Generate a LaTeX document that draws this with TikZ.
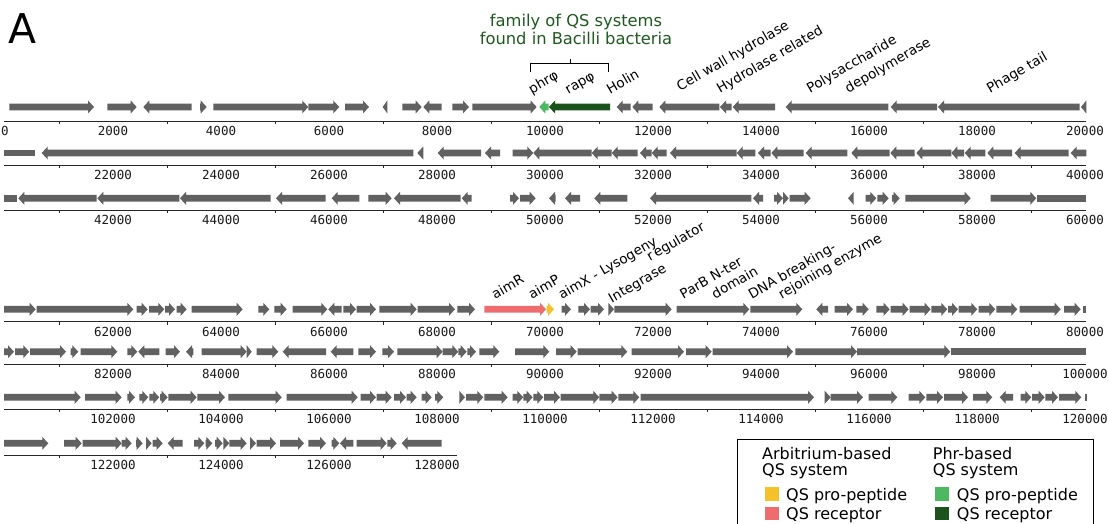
\documentclass[tikz,border=0pt]{standalone}
\usepackage{fontspec}
\setmainfont{DejaVu Sans}
\newfontfamily\monof{DejaVu Sans Mono}
\definecolor{gcol}{HTML}{616161}
\definecolor{phrcol}{HTML}{4CB862}
\definecolor{rapcol}{HTML}{1C521C}
\definecolor{aimRcol}{HTML}{EE6B6E}
\definecolor{aimPcol}{HTML}{F6C02A}
\definecolor{titlegreen}{HTML}{1E5A1E}
\newcommand\gR[4][gcol]{\pgfmathsetmacro\hlen{min(6,#3-#2)}%
  \fill[#1] (#2,#4-3.4) -- (#3-\hlen,#4-3.4) -- (#3-\hlen,#4-6.5) -- (#3,#4) -- (#3-\hlen,#4+6.5) -- (#3-\hlen,#4+3.4) -- (#2,#4+3.4) -- cycle;}
\newcommand\gL[4][gcol]{\pgfmathsetmacro\hlen{min(6,#3-#2)}%
  \fill[#1] (#3,#4-3.4) -- (#2+\hlen,#4-3.4) -- (#2+\hlen,#4-6.5) -- (#2,#4) -- (#2+\hlen,#4+6.5) -- (#2+\hlen,#4+3.4) -- (#3,#4+3.4) -- cycle;}
\newcommand\gN[4][gcol]{\fill[#1] (#2,#4-3.4) rectangle (#3,#4+3.4);}
\newcommand\generow[2]{\foreach \d/\a/\b in {#2} {\csname g\d\endcsname{\a}{\b}{#1}}}
\newcommand\axisrow[4]{% #1 row index, #2 axis y, #3 end x, #4 number of labels
  \draw[axisline] (4,#2) -- (#3,#2);
  \foreach \k in {1,3,...,19} {\pgfmathsetmacro\tx{5+54*\k}\ifdim\tx pt<#3pt\relax\draw[axisline] (\tx,#2) -- (\tx,#2+3);\fi}
  \foreach \j in {1,...,#4} {\pgfmathtruncatemacro\lab{20*#1+2*\j}\node[ticklab] (tl#1-\j) at (5+108*\j,#2+10) {\lab000};}}
\begin{document}
\begin{tikzpicture}[x=1pt,y=-1pt,
  axisline/.style={draw=black!85,line width=0.9pt},
  ticklab/.style={font=\monof\fontsize{12.5}{12.5}\selectfont,inner sep=0pt,text=black!90},
  lab/.style={font=\fontsize{13.5}{13.5}\selectfont,rotate=30,anchor=base west,inner sep=0pt},
  legtext/.style={font=\fontsize{16}{16}\selectfont,anchor=base west,inner sep=0pt}]
\useasboundingbox (0,0) rectangle (1108,524);
% panel letter
\node[font=\fontsize{41}{41}\selectfont,anchor=base west,inner sep=0pt] (A) at (8,43.3) {A};
% title and bracket
\node[font=\fontsize{16.3}{16.3}\selectfont,text=titlegreen,anchor=base,inner sep=0pt] (t1) at (576,26.7) {family of QS systems};
\node[font=\fontsize{16.3}{16.3}\selectfont,text=titlegreen,anchor=base,inner sep=0pt] (t2) at (576,45) {found in Bacilli bacteria};
\draw[line width=1pt] (530.7,71.7) -- (530.7,63.3) -- (608.3,63.3) -- (608.3,71.7);
\draw[line width=1pt] (570,63.3) -- (570,59.3);
% ---------- row 1 ----------
\generow{107}{R/9.3/94, R/107.3/136.7, L/143.3/191.7, R/200/206.7, R/213.3/308.3, R/308.3/339.3, R/345/369, L/382.7/387.3, R/402.3/421.7, L/423.3/441.7, R/452.3/469, R/472.3/536.7, L/616.7/630.7, L/632.3/652.7, L/659.3/719.3, L/720/731.7, L/732.7/775, L/785.7/888.3, L/890.7/937, L/938/1079.7, L/1081/1086.3}
\gL[phrcol]{539.3}{548.6}{107}
\gL[rapcol]{549}{610}{107}
\axisrow{0}{121}{1086}{10}
\node[ticklab] (tl0-0) at (5,131) {0};
% ---------- row 2 ----------
\generow{153}{N/4/35.3, L/41.7/413.3, L/417.3/423.3, L/437.7/481, L/485/500, R/512.7/533.3, L/533.3/591.7, L/591.7/611.7, L/611.7/637.7, L/640/651.7, L/651.7/666.7, L/670/736.7, L/736.7/755.3, L/758/770.7, L/771.3/803.7, L/805.7/847.3, L/851.3/889.7, L/890.3/914.7, L/916.3/951.3, L/951.3/964, L/964.7/985.3, L/987.3/1012, L/1014.7/1068.7, L/1070.7/1086.3}
\axisrow{1}{165}{1086}{10}
% ---------- row 3 ----------
\generow{198.3}{N/4/16.7, L/18.3/96.7, L/97.3/179.3, L/180/270.7, L/276/325.7, L/331.7/359.3, R/368.3/391.7, L/394/460.7, L/461.7/471.7, R/510/519, R/520/535.7, L/549/555.7, L/565/580, L/594.3/627.3, L/650/751.3, L/753/763, R/774/783, R/783/788.7, R/789.7/810.7, L/848/853.7, R/865.7/876.3, R/877.3/888.7, R/892/899.7, R/905.3/970.7, R/990.7/1036.3, N/1037/1086.3}
\axisrow{2}{210}{1086}{10}
% ---------- row 4 ----------
\generow{309.3}{R/4/35.7, R/36.7/133.3, R/136.7/147.7, R/149/164.3, R/165/175, R/176.7/186.7, R/191.7/242.7, R/258.3/269.3, R/274.3/286.7, R/292.7/327.3, L/328.3/341.7, R/343.3/356, R/356.7/376, R/379.3/416.7, R/417.7/455, R/457.3/475, R/561.7/571, R/578.3/590, R/590.7/604, R/608.3/614, R/614.3/671.7, R/676.7/749.3, R/750.3/802.3, L/816.3/828, R/834.7/853, R/856.3/868.7, R/876.3/889.7, R/890.7/908.7, R/909.7/930.7, R/931.3/947.3, R/948/958, R/958.7/977.3, R/978.7/995.3, R/996.3/1017.3, R/1019.7/1060.7, R/1064/1080.7, N/1083/1086.3}
\gR[aimRcol]{484.3}{546}{309.3}
\gR[aimPcol]{546.7}{554}{309.3}
\axisrow{3}{321.7}{1086}{10}
% ---------- row 5 ----------
\generow{351.7}{R/4/14, R/15/29.3, R/30/66, R/70.7/78.3, R/80.7/117.3, R/127.3/137.3, L/138.3/159.3, R/165.7/180, L/186/193.3, R/201.7/246.7, R/246.7/251.7, R/256.7/278.3, L/282.7/326, L/330.7/353.3, R/358.3/376, R/382.3/394, R/397.3/442.7, R/442.7/458.3, R/458.3/466.7, R/467.3/476, R/479.3/499.3, R/515/549.3, R/556/576.7, R/577.7/627.3, R/631.7/684, R/686/711.7, R/712.7/793, R/795.3/857, R/857/950.3, N/951.3/1086.3}
\axisrow{4}{364}{1086}{10}
% ---------- row 6 ----------
\generow{397.3}{R/4/80.7, R/85/121.7, R/127.3/135, R/139.3/148.3, R/149.3/159.3, R/160/167.7, R/168.3/196.7, R/197.3/225, R/228.3/281.7, R/286.7/357.7, R/360.7/376, R/376.7/391.7, R/394/406, R/406.7/416.7, R/421.7/431.7, R/435/443.3, R/459.3/465, R/466/483.3, R/484.3/507.7, R/512.7/523.3, R/523.3/532.7, R/533.3/543.3, R/544/560, R/560.7/599.3, R/599.3/617.7, R/618.3/639.3, R/640.7/814, R/824.7/830.7, R/830.7/863, R/868.7/897.3, R/908.7/925.3, R/926.3/943, R/944/968, R/973/992.3, L/999.7/1013, R/1020.7/1031.3, R/1032/1044.7, R/1045.3/1058, R/1059/1081.3, N/1085/1087}
\axisrow{5}{409.3}{1086}{10}
% ---------- row 7 ----------
\generow{443.3}{R/4/48.3, R/64/81.7, R/82.7/121.7, R/121.7/131.7, R/136/142.7, R/146/151.7, R/152.7/162.7, L/167.7/182.7, R/194/204.3, R/205.7/212.3, R/215/222.7, R/223.3/229.3, R/229.3/246.7, R/250/256, R/256.7/276, R/280/304, R/308.3/326, R/331.7/339.3, L/340/353.3, R/356.7/386.7, R/387.3/396.7, L/401.7/441.7}
\axisrow{6}{455}{457}{4}
% ---------- gene labels ----------
\node[lab] (l1) at (531.7,94.3) {phrφ};
\node[lab] (l2) at (568.3,94.3) {rapφ};
\node[lab] (l3) at (610,94.3) {Holin};
\node[lab] (l4) at (680,91.7) {Cell wall hydrolase};
\node[lab] (l5) at (720,93.3) {Hydrolase related};
\node[lab] (l6) at (810,93.3) {Polysaccharide};
\node[lab] (l7) at (848.3,93.3) {depolymerase};
\node[lab] (l8) at (990,93.3) {Phage tail};
\node[lab] (l9) at (495,299.3) {aimR};
\node[lab] (l10) at (531.7,299.3) {aimP};
\node[lab] (l11) at (561.7,300) {aimX - Lysogeny};
\node[lab] (l12) at (650,261.7) {r\kern2pt egulator};
\node[lab] (l13) at (611.7,303.3) {Integrase};
\node[lab] (l14) at (683.3,299.3) {ParB N-ter};
\node[lab] (l15) at (715,299.3) {domain};
\node[lab] (l16) at (751.7,299.3) {DNA breaking-};
\node[lab] (l17) at (781.7,299.3) {rejoining enzyme};
% ---------- legend ----------
\draw[line width=1pt] (737,439.5) rectangle (1093,530);
\node[legtext] (g1) at (762,459.3) {Arbitrium-based};
\node[legtext] (g2) at (762,475) {QS system};
\node[legtext] (g3) at (932.7,459.3) {Phr-based};
\node[legtext] (g4) at (932.7,475) {QS system};
\fill[aimPcol] (765,487.3) rectangle (779.3,500.7);
\fill[aimRcol] (765,506.7) rectangle (779.3,520);
\fill[phrcol] (935,487.3) rectangle (949.3,500.7);
\fill[rapcol] (935,506.7) rectangle (949.3,520);
\node[legtext] (g5) at (786,500) {QS pro-peptide};
\node[legtext] (g6) at (786,519.5) {QS receptor};
\node[legtext] (g7) at (956.7,500) {QS pro-peptide};
\node[legtext] (g8) at (956.7,519.5) {QS receptor};
\end{tikzpicture}
\end{document}
